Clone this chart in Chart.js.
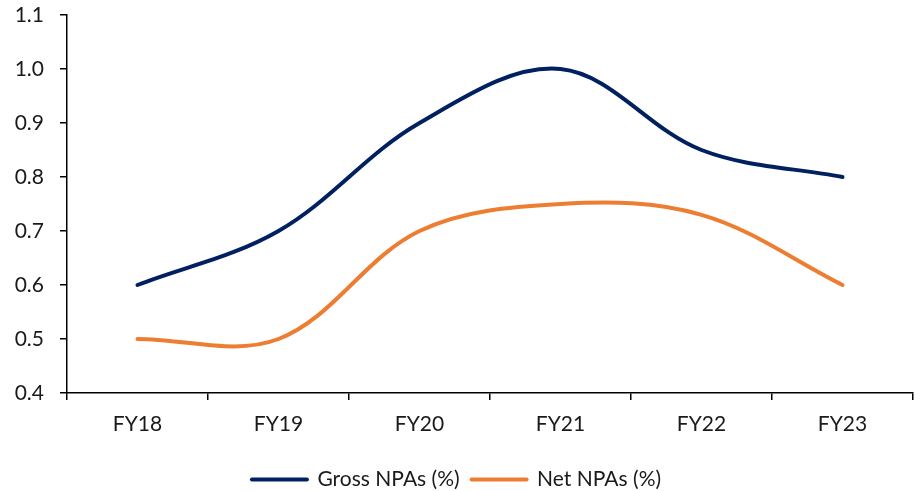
<!DOCTYPE html>
<html>
<head>
<meta charset="utf-8">
<script src="https://cdn.jsdelivr.net/npm/chart.js@4.4.1/dist/chart.umd.min.js"></script>
<style>
  html, body { margin: 0; padding: 0; background: #fff; }
  #wrap { width: 923px; height: 491px; position: relative; }
</style>
</head>
<body>
<div id="wrap"><canvas id="c"></canvas></div>
<script>
// Fiscal years and asset-quality ratios (%)
const years = ['FY18', 'FY19', 'FY20', 'FY21', 'FY22', 'FY23'];
const grossNPA = [0.60, 0.70, 0.90, 1.00, 0.85, 0.80];
const netNPA = [0.50, 0.50, 0.70, 0.75, 0.73, 0.60];
const yTicks = [0.4, 0.5, 0.6, 0.7, 0.8, 0.9, 1.0, 1.1];

const FONT = { family: 'Lato', size: 21 };
const NAVY = '#002060';
const ORANGE = '#ED7D31';

new Chart(document.getElementById('c'), {
  type: 'line',
  data: {
    labels: years,
    datasets: [
      {
        label: 'Gross NPAs (%)',
        data: grossNPA,
        borderColor: NAVY,
        backgroundColor: NAVY,
        borderWidth: 4,
        borderCapStyle: 'round',
        pointRadius: 0,
        tension: 0.35
      },
      {
        label: 'Net NPAs (%)',
        data: netNPA,
        borderColor: ORANGE,
        backgroundColor: ORANGE,
        borderWidth: 4,
        borderCapStyle: 'round',
        pointRadius: 0,
        tension: 0.35
      }
    ]
  },
  options: {
    responsive: true,
    maintainAspectRatio: false,
    animation: false,
    layout: { padding: { top: 15, right: 10, left: 0, bottom: -9 } },
    plugins: {
      tooltip: { enabled: false },
      legend: {
        position: 'bottom',
        labels: {
          font: FONT,
          color: '#1a1a1a',
          usePointStyle: true,
          pointStyle: 'line',
          pointStyleWidth: 55,
          padding: 12,
          generateLabels(chart) {
            return chart.data.datasets.map((ds, i) => ({
              text: ds.label,
              strokeStyle: ds.borderColor,
              fillStyle: ds.borderColor,
              lineWidth: 4,
              lineCap: 'round',
              pointStyle: 'line',
              datasetIndex: i,
              hidden: false,
              fontColor: '#1a1a1a'
            }));
          }
        }
      }
    },
    scales: {
      x: {
        offset: true,
        grid: {
          display: true,
          offset: true,
          drawOnChartArea: false,
          drawTicks: true,
          tickLength: 7,
          color: '#000',
          lineWidth: 1.5
        },
        border: { color: '#000', width: 1.5 },
        ticks: { font: FONT, color: '#1a1a1a', padding: 12 },
        afterFit(scale) {
          scale.height = 64;
          scale.paddingLeft = 0;
          scale.paddingRight = 0;
        }
      },
      y: {
        min: 0.4,
        max: 1.1,
        afterBuildTicks(scale) { scale.ticks = yTicks.map(v => ({ value: v })); },
        grid: {
          display: true,
          drawOnChartArea: false,
          drawTicks: true,
          tickLength: 7,
          color: '#000',
          lineWidth: 1.5
        },
        border: { color: '#000', width: 1.5 },
        ticks: {
          font: FONT,
          color: '#1a1a1a',
          padding: 16,
          callback: v => Number(v).toFixed(1)
        },
        afterFit(scale) {
          scale.width = 67;
          scale.paddingTop = 0;
          scale.paddingBottom = 0;
        }
      }
    }
  }
});
</script>
</body>
</html>
